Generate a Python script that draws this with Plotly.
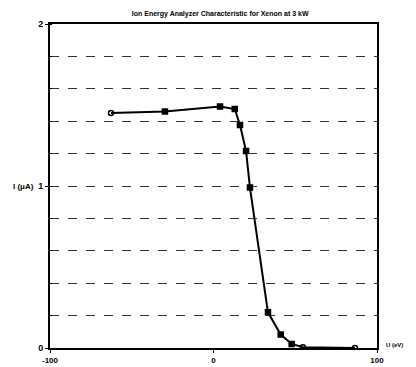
import plotly.graph_objects as go

voltage = [-62.7, -29.7, 4.0, 13.0, 16.2, 19.9, 22.3, 33.3, 41.1, 47.8, 54.7, 86.5]
current = [1.45, 1.46, 1.49, 1.475, 1.376, 1.216, 0.99, 0.22, 0.083, 0.025, 0.005, 0.0]
symbols = ["circle-open", "square", "square", "square", "square", "square", "square",
           "square", "square", "square", "circle-open", "circle-open"]

x_ticks = [-100, 0, 100]
x_tick_text = ["-100", "0", "100"]
y_ticks = [0, 1, 2]

fig = go.Figure()
fig.add_trace(go.Scatter(
    x=voltage, y=current, mode="lines+markers",
    line=dict(color="black", width=2),
    marker=dict(symbol=symbols, size=5, color="black", line=dict(color="black", width=1.5)),
    showlegend=False,
))

fnt = "Liberation Sans, Arial, sans-serif"
fig.update_layout(
    width=408, height=359,
    margin=dict(l=42, r=39, t=16, b=19, autoexpand=False),
    paper_bgcolor="white", plot_bgcolor="white",
    font=dict(family=fnt, color="black"),
    title=dict(text="Ion Energy Analyzer Characteristic for Xenon at 3 kW",
               x=0.52, xanchor="center", y=0.985, yanchor="middle",
               font=dict(size=7, color="black", weight="bold")),
    xaxis=dict(range=[-100, 100], tickvals=x_ticks, ticktext=x_tick_text,
               automargin=False,
               showgrid=False, zeroline=False, showline=True, linecolor="black",
               linewidth=2, mirror=True, ticks="outside", ticklen=3, tickcolor="black",
               tickfont=dict(size=8, family=fnt, weight="bold")),
    yaxis=dict(range=[0, 2], tickvals=y_ticks, showgrid=True, gridcolor="#333333",
               automargin=False,
               griddash="dash", gridwidth=1, zeroline=False, showline=True,
               linecolor="black", linewidth=2, mirror=True, ticks="outside",
               ticklen=3, tickcolor="black",
               tickfont=dict(size=9, family=fnt, weight="bold"),
               minor=dict(dtick=0.2, showgrid=True, gridcolor="#333333",
                          griddash="dash", gridwidth=1, ticks="inside", ticklen=2,
                          tickcolor="black")),
    annotations=[
        dict(text="I (μA)", xref="paper", yref="y", x=-0.118, y=1, xanchor="left",
             yanchor="middle", showarrow=False, font=dict(size=8, color="black", weight="bold")),
        dict(text="U (eV)", xref="paper", yref="y", x=1.02, y=0.02, xanchor="left",
             yanchor="middle", showarrow=False, font=dict(size=6, color="black", weight="bold")),
    ],
)

fig.write_html("out.html")
